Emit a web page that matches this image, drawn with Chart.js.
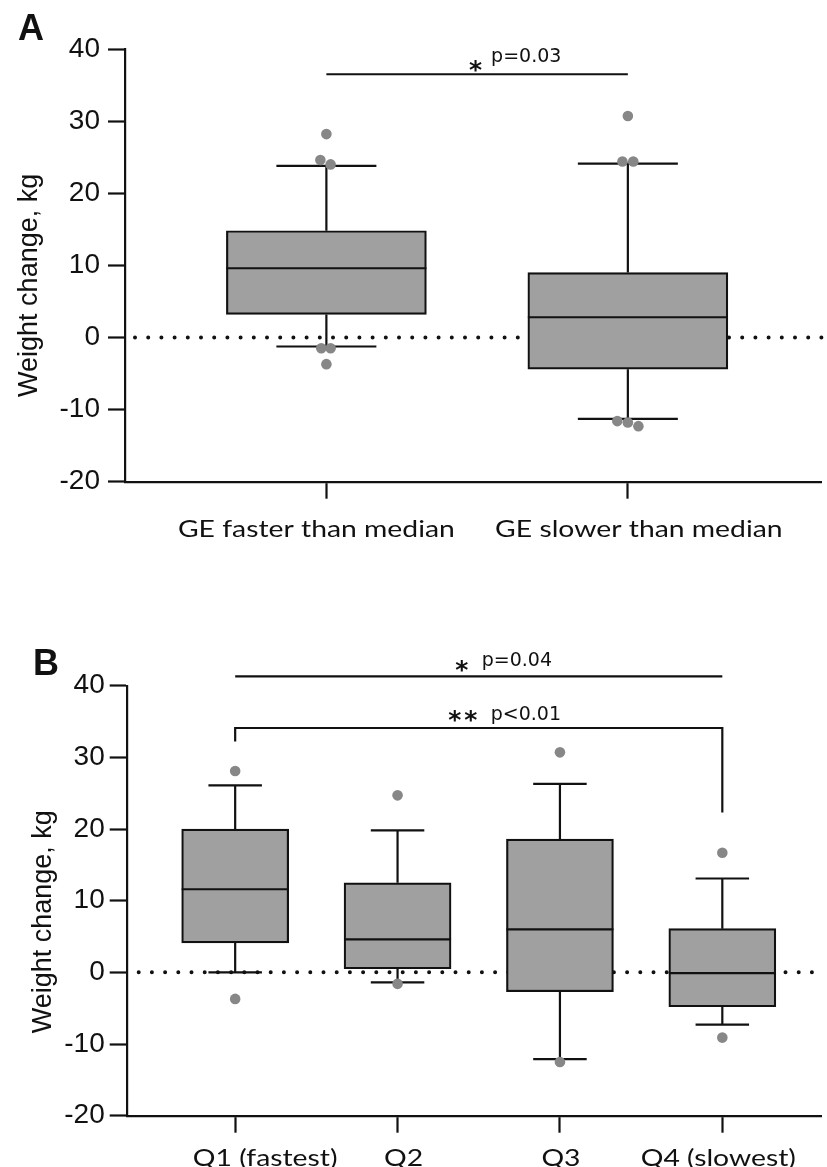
<!DOCTYPE html>
<html><head><meta charset="utf-8">
<script src="https://cdn.jsdelivr.net/npm/chart.js@4.4.1/dist/chart.umd.min.js"></script>
<style>
html,body{margin:0;padding:0;background:#fff;}
canvas{position:absolute;left:0;display:block;}
</style>
</head><body>
<canvas id="cA" width="827" height="560" style="top:0px"></canvas>
<canvas id="cB" width="827" height="607" style="top:560px"></canvas>
<script>
// ---------- shared ----------
const yTicks = [-20, -10, 0, 10, 20, 30, 40];
const yTitle = 'Weight change, kg';

// ---------- Panel A ----------
const catsA = ['GE faster than median', 'GE slower than median'];
const q1A = [3.2, -4.4];
const q3A = [14.8, 9.0];
const medA = [9.6, 2.8];
const whiskLoA = [-1.25, -11.3];
const whiskHiA = [23.8, 24.1];
const outCatA = [0, 0, 0, 0, 0, 0, 1, 1, 1, 1, 1, 1];
const outJitA = [0, -0.02, 0.014, -0.017, 0.014, 0, 0, -0.018, 0.018, -0.035, 0, 0.035];
const outValA = [28.2, 24.6, 24.0, -1.5, -1.5, -3.7, 30.7, 24.4, 24.4, -11.6, -11.8, -12.3];
const sigFromA = [0];
const sigToA = [1];
const sigYA = [36.5];
const sigLeftEndA = [36.5];
const sigRightEndA = [36.5];
const sigStarsA = [1];
const sigTextA = ['p=0.03'];

// ---------- Panel B ----------
const catsB = ['Q1 (fastest)', 'Q2', 'Q3', 'Q4 (slowest)'];
const q1B = [4.1, 0.5, -2.7, -4.8];
const q3B = [20.0, 12.5, 18.6, 6.1];
const medB = [11.6, 4.6, 6.0, -0.1];
const whiskLoB = [0.0, -1.4, -12.1, -7.3];
const whiskHiB = [26.1, 19.8, 26.3, 13.1];
const outCatB = [0, 0, 1, 1, 2, 2, 3, 3];
const outJitB = [0, 0, 0, 0, 0, 0, 0, 0];
const outValB = [28.1, -3.7, 24.7, -1.6, 30.7, -12.5, 16.7, -9.1];
const sigFromB = [0, 0];
const sigToB = [3, 3];
const sigYB = [41.3, 34.1];
const sigLeftEndB = [41.3, 32.2];
const sigRightEndB = [41.3, 22.3];
const sigStarsB = [1, 2];
const sigTextB = ['p=0.04', 'p<0.01'];

const INK = '#111111';
const BOXFILL = '#a0a0a0';
const DOT = '#878787';

function makeChart(canvasId, d, s) {
  const boxData = d.cats.map((c, i) => ({ x: i, y: [d.q1[i], d.q3[i]] }));
  const outData = d.outVal.map((v, k) => ({ x: d.outCat[k] + d.outJit[k], y: v }));

  const boxPlugin = {
    id: 'boxExtras',
    beforeDatasetsDraw(chart) {
      const ctx = chart.ctx, xs = chart.scales.x, ys = chart.scales.y, ca = chart.chartArea;
      // dotted zero line
      ctx.save();
      ctx.strokeStyle = INK;
      ctx.lineWidth = 4;
      ctx.lineCap = 'round';
      ctx.setLineDash([0, 13.2]);
      const y0 = ys.getPixelForValue(0);
      ctx.beginPath();
      ctx.moveTo(ca.left + s.dotStart, y0);
      ctx.lineTo(ca.right, y0);
      ctx.stroke();
      ctx.restore();
      // whiskers
      ctx.save();
      ctx.strokeStyle = INK;
      ctx.lineWidth = 2.2;
      const cap = s.bar / 4;
      d.cats.forEach((c, i) => {
        const x = xs.getPixelForValue(i);
        const yq3 = ys.getPixelForValue(d.q3[i]), yhi = ys.getPixelForValue(d.hi[i]);
        const yq1 = ys.getPixelForValue(d.q1[i]), ylo = ys.getPixelForValue(d.lo[i]);
        ctx.beginPath();
        ctx.moveTo(x, yq3); ctx.lineTo(x, yhi);
        ctx.moveTo(x - cap, yhi); ctx.lineTo(x + cap, yhi);
        ctx.moveTo(x, yq1); ctx.lineTo(x, ylo);
        ctx.moveTo(x - cap, ylo); ctx.lineTo(x + cap, ylo);
        ctx.stroke();
      });
      ctx.restore();
    },
    afterDatasetDraw(chart, args) {
      if (args.index !== 0) return;
      const ctx = chart.ctx, xs = chart.scales.x, ys = chart.scales.y;
      ctx.save();
      ctx.strokeStyle = INK;
      ctx.lineWidth = 2.2;
      d.cats.forEach((c, i) => {
        const x = xs.getPixelForValue(i);
        const y = ys.getPixelForValue(d.med[i]);
        ctx.beginPath();
        ctx.moveTo(x - s.bar / 2, y); ctx.lineTo(x + s.bar / 2, y);
        ctx.stroke();
      });
      ctx.restore();
    },
    afterDraw(chart) {
      const ctx = chart.ctx, xs = chart.scales.x, ys = chart.scales.y, ca = chart.chartArea;
      ctx.save();
      // significance brackets
      ctx.strokeStyle = INK;
      ctx.lineWidth = 2.2;
      d.sigFrom.forEach((f, k) => {
        const xl = xs.getPixelForValue(f), xr = xs.getPixelForValue(d.sigTo[k]);
        const y = ys.getPixelForValue(d.sigY[k]);
        ctx.beginPath();
        ctx.moveTo(xl, ys.getPixelForValue(d.sigLeftEnd[k]));
        ctx.lineTo(xl, y);
        ctx.lineTo(xr, y);
        ctx.lineTo(xr, ys.getPixelForValue(d.sigRightEnd[k]));
        ctx.stroke();
        const mid = (xl + xr) / 2;
        const a = s.ann[k];
        // stars
        ctx.fillStyle = INK;
        ctx.font = 'bold 25px "DejaVu Sans"';
        ctx.textAlign = 'center';
        ctx.textBaseline = 'alphabetic';
        const m = ctx.measureText('*');
        const off = (m.actualBoundingBoxAscent - m.actualBoundingBoxDescent) / 2;
        for (let j = 0; j < d.sigStars[k]; j++) {
          ctx.fillText('*', mid + a.starX + j * 16, y - a.starUp + off);
        }
        // p text
        ctx.font = '19px "DejaVu Sans"';
        ctx.textAlign = 'left';
        ctx.fillText(d.sigText[k], mid + a.textX, y - a.textUp);
      });
      // category labels
      ctx.font = s.xFont;
      ctx.textAlign = 'center';
      ctx.textBaseline = 'alphabetic';
      ctx.fillStyle = INK;
      d.cats.forEach((c, i) => {
        const x = xs.getPixelForValue(i) + s.labelOff[i];
        ctx.save();
        ctx.translate(x, s.labelBase);
        ctx.scale(s.xStretch, 1);
        ctx.fillText(c, 0, 0);
        ctx.restore();
      });
      // y title
      ctx.save();
      ctx.font = '27px "Liberation Sans"';
      ctx.translate(s.titleX, (ca.top + ca.bottom) / 2 + s.titleShift);
      ctx.rotate(-Math.PI / 2);
      ctx.textAlign = 'center';
      ctx.textBaseline = 'middle';
      ctx.fillText(yTitle, 0, 0);
      ctx.restore();
      // panel letter
      ctx.font = 'bold 36px "Liberation Sans"';
      ctx.textAlign = 'left';
      ctx.textBaseline = 'alphabetic';
      ctx.fillText(s.letter, s.letterX, s.letterY);
      ctx.restore();
    }
  };

  return new Chart(document.getElementById(canvasId), {
    type: 'bar',
    data: {
      datasets: [
        {
          type: 'bar',
          data: boxData,
          backgroundColor: BOXFILL,
          borderColor: INK,
          borderWidth: 2.2,
          borderSkipped: false,
          barThickness: s.bar,
          order: 2
        },
        {
          type: 'scatter',
          data: outData,
          backgroundColor: DOT,
          borderWidth: 0,
          pointRadius: 5.3,
          order: 1
        }
      ]
    },
    options: {
      responsive: false,
      animation: false,
      devicePixelRatio: 1,
      layout: { padding: { top: s.padTop, left: 0, right: 0, bottom: 0 } },
      plugins: { legend: { display: false }, tooltip: { enabled: false } },
      scales: {
        x: {
          type: 'linear',
          min: s.xMin, max: s.xMax,
          offset: false,
          afterBuildTicks: sc => { sc.ticks = d.cats.map((c, i) => ({ value: i })); },
          afterFit: sc => { sc.height = s.xH; },
          ticks: { display: false },
          grid: { display: true, offset: false, drawOnChartArea: false, drawTicks: true, tickLength: 17, tickWidth: 2.2, tickColor: INK, color: INK },
          border: { display: true, color: INK, width: 2.2 }
        },
        y: {
          type: 'linear',
          min: -20, max: 40,
          afterBuildTicks: sc => { sc.ticks = yTicks.map(v => ({ value: v })); },
          afterFit: sc => { sc.width = s.yW; },
          ticks: {
            font: { family: 'Liberation Sans', size: 28 },
            color: INK,
            padding: s.yPad,
            callback: v => String(v)
          },
          grid: { display: true, drawOnChartArea: false, drawTicks: true, tickLength: 17, tickWidth: 2.2, tickColor: INK, color: INK },
          border: { display: true, color: INK, width: 2.2 }
        }
      }
    },
    plugins: [boxPlugin]
  });
}

makeChart('cA', {
  cats: catsA, q1: q1A, q3: q3A, med: medA, lo: whiskLoA, hi: whiskHiA,
  outCat: outCatA, outJit: outJitA, outVal: outValA,
  sigFrom: sigFromA, sigTo: sigToA, sigY: sigYA, sigLeftEnd: sigLeftEndA, sigRightEnd: sigRightEndA,
  sigStars: sigStarsA, sigText: sigTextA
}, {
  bar: 200, padTop: 49, xH: 560 - 481.7, yW: 125, yPad: 8,
  xMin: -0.668, xMax: 1.643, dotStart: 10,
  ann: [{ starX: -1.5, starUp: 8, textX: 14, textUp: 12 }],
  xFont: '24px Lato', xStretch: 1.18, labelOff: [-10, 11], labelBase: 536.7,
  titleX: 30, titleShift: 20, letter: 'A', letterX: 18, letterY: 40
});

makeChart('cB', {
  cats: catsB, q1: q1B, q3: q3B, med: medB, lo: whiskLoB, hi: whiskHiB,
  outCat: outCatB, outJit: outJitB, outVal: outValB,
  sigFrom: sigFromB, sigTo: sigToB, sigY: sigYB, sigLeftEnd: sigLeftEndB, sigRightEnd: sigRightEndB,
  sigStars: sigStarsB, sigText: sigTextB
}, {
  bar: 107, padTop: 125.7, xH: 607 - 555.7, yW: 126.7, yPad: 5,
  xMin: -0.668, xMax: 3.612, dotStart: 12,
  ann: [{ starX: -17, starUp: 10, textX: 3, textUp: 10 },
        { starX: -24, starUp: 11.6, textX: 12, textUp: 8 }],
  xFont: '24px Lato', xStretch: 1.18, labelOff: [30, 6, 1, -4], labelBase: 605.7,
  titleX: 44, titleShift: 21, letter: 'B', letterX: 33, letterY: 115
});
</script>
</body></html>
